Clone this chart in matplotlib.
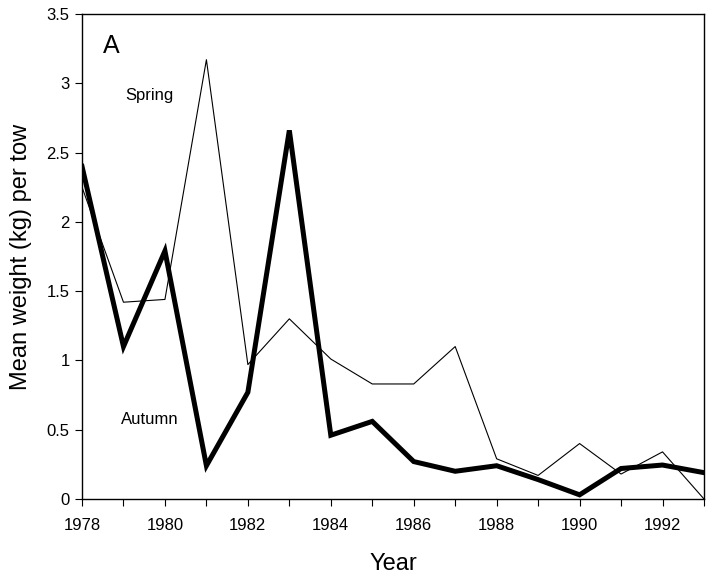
import matplotlib
matplotlib.use("Agg")
import matplotlib.pyplot as plt

plt.rcParams["font.family"] = ["Liberation Sans", "DejaVu Sans"]

years = list(range(1978, 1994))
spring = [2.25, 1.42, 1.44, 3.17, 0.97, 1.30, 1.01, 0.83, 0.83, 1.10,
          0.29, 0.17, 0.40, 0.18, 0.34, 0.0]
autumn = [2.40, 1.10, 1.79, 0.24, 0.77, 2.66, 0.46, 0.56, 0.27, 0.20,
          0.24, 0.14, 0.03, 0.22, 0.245, 0.19]
year_labels = list(range(1978, 1993, 2))
y_ticks = [0, 0.5, 1, 1.5, 2, 2.5, 3, 3.5]
y_tick_labels = ["0", "0.5", "1", "1.5", "2", "2.5", "3", "3.5"]

fig = plt.figure(figsize=(7.15, 5.75), dpi=100)
ax = fig.add_axes([0.1147, 0.1322, 0.8699, 0.8435])

ax.plot(years, spring, color="black", linewidth=0.8)
ax.plot(years, autumn, color="black", linewidth=3.6, solid_joinstyle="miter")

ax.set_xlim(1978, 1993)
ax.set_ylim(0, 3.5)
ax.set_xticks(years)
ax.set_xticklabels([str(y) if y in year_labels else "" for y in years])
ax.set_yticks(y_ticks)
ax.set_yticklabels(y_tick_labels)
ax.tick_params(direction="out", length=5, width=0.8, labelsize=12)
ax.tick_params(axis="x", pad=9)
ax.tick_params(axis="y", pad=4)

ax.set_xlabel("Year", fontsize=17, labelpad=14)
ax.set_ylabel("Mean weight (kg) per tow", fontsize=17, labelpad=10)

for s in ax.spines.values():
    s.set_linewidth(1.0)

ax.text(1978.5, 3.27, "A", fontsize=18, ha="left", va="center")
ax.text(1979.05, 2.91, "Spring", fontsize=12, ha="left", va="center")
ax.text(1978.95, 0.57, "Autumn", fontsize=12, ha="left", va="center")

plt.savefig("out.png", dpi=100)
plt.close()
